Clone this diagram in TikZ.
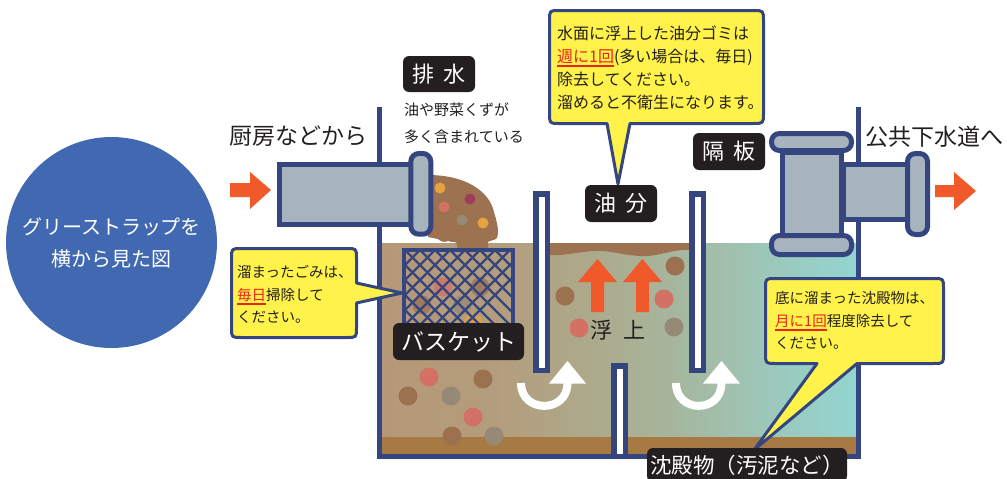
\documentclass[tikz,border=0pt]{standalone}
\usepackage{fontspec}
\setmainfont{Noto Sans CJK JP}

\definecolor{navy}{RGB}{53,69,127}
\definecolor{pipegrey}{RGB}{167,180,189}
\definecolor{disc}{RGB}{65,105,178}
\definecolor{flow}{RGB}{240,90,42}
\definecolor{note}{RGB}{255,242,75}
\definecolor{ink}{RGB}{35,31,32}
\definecolor{warn}{RGB}{235,35,30}
\definecolor{oil}{RGB}{157,114,80}
\definecolor{sludge}{RGB}{166,122,66}
\definecolor{dpink}{RGB}{210,113,100}
\definecolor{dbrown}{RGB}{156,113,80}
\definecolor{dgrey}{RGB}{150,137,118}
\definecolor{dorange}{RGB}{229,163,63}
\definecolor{dmaroon}{RGB}{156,62,90}
\definecolor{waterA}{RGB}{182,152,120}
\definecolor{waterB}{RGB}{179,157,124}
\definecolor{waterC}{RGB}{172,171,141}
\definecolor{waterD}{RGB}{165,184,160}
\definecolor{waterE}{RGB}{156,200,187}
\definecolor{waterF}{RGB}{146,213,207}

% water tint from the inlet side (tan) to the outlet side (clear teal)
\pgfdeclarehorizontalshading{tankwater}{100bp}{color(0bp)=(waterA); color(25bp)=(waterA);
  color(37bp)=(waterB); color(48bp)=(waterC); color(57bp)=(waterD);
  color(66bp)=(waterE); color(75bp)=(waterF); color(100bp)=(waterF)}

% red, underlined emphasis inside the notes
\newcommand\warnline[1]{\textcolor{warn}{\setbox0=\hbox{#1}\rlap{\rule[-4.5pt]{\wd0}{1.6pt}}\box0}}

\begin{document}
\begin{tikzpicture}[x=1pt,y=-1pt,
  wall/.style={draw=navy,line width=5pt},
  pipebody/.style={draw=navy,fill=pipegrey,line width=5pt},
  flange/.style={pipebody,rounded corners=8pt},
  callout/.style={draw=navy,fill=note,line width=3pt,line join=round},
  tag/.style={fill=ink,rounded corners=6pt,text=white,inner sep=0pt,font=\fontsize{22}{26}\selectfont},
  plain/.style={text=ink,inner sep=0pt},
  swirl/.style={draw=white,line width=8pt},
]
\useasboundingbox (0,0) rectangle (1007,479);
\clip (0,0) rectangle (1007,479);

% ---- tank contents ----
\shade[shading=tankwater] (382,243) rectangle (856,454);
\fill[oil] (549,243) -- (690,243) -- (690,250)
  .. controls (670,249) and (660,257) .. (640,256)
  .. controls (620,255) and (610,250) .. (595,251)
  .. controls (575,252) and (565,256) .. (549,255) -- cycle;
\fill[sludge] (382,437) rectangle (856,454);

% suspended solids
\foreach \x/\y/\c in {429/377/dpink, 483/379/dbrown, 408/396/dbrown, 451/396/dgrey,
    473/417/dpink, 452/436/dbrown, 494/436/dgrey,
    565/296/dbrown, 579/328/dpink, 675/266/dbrown, 664/299/dpink, 674/327/dgrey}
  \fill[\c] (\x,\y) circle[radius=9.5pt];
\foreach \x/\y/\c in {443/287/dpink, 480/287/dbrown, 422/305/dbrown, 462/305/dgrey, 473/323/dorange}
  \fill[\c,opacity=.75] (\x,\y) circle[radius=9.5pt];

% waste pouring out of the inlet
\fill[oil] (428,175) .. controls (464,175) and (489,190) .. (494,212)
  .. controls (498,225) and (499,233) .. (497,238)
  .. controls (494,241) and (490,240) .. (488,242) -- (488,252) -- (457,252) -- (457,244)
  .. controls (455,240) and (452,243) .. (448,241)
  .. controls (444,243) and (440,241) .. (438,239) -- (428,237) -- cycle;
\foreach \x/\y/\c in {440/188/dorange, 470/199/dmaroon, 444/207/dpink, 462/220/dgrey, 483/223/dorange}
  \fill[\c] (\x,\y) circle[radius=5.5pt];

% basket
\begin{scope}
  \clip (404,250) rectangle (513,345);
  \foreach \c in {285,300,...,540} {
    \draw[navy,line width=2.2pt] (\c,250) -- ++(100,100);
    \draw[navy,line width=2.2pt] (\c,250) -- ++(-100,100);
  }
\end{scope}
\draw[navy,line width=4pt] (404,250) rectangle (513,345);

% rising oil
\fill[flow] (591,312) -- (591,282) -- (578,282) -- (597.5,259) -- (617,282) -- (604,282) -- (604,312) -- cycle;
\fill[flow] (636,312) -- (636,282) -- (623,282) -- (642.5,259) -- (662,282) -- (649,282) -- (649,312) -- cycle;
\node[plain,font=\fontsize{22}{26}\selectfont] (rise) at (618,330) {浮\hspace{.5em}上};

% flow under the baffles
\draw[swirl] (521,383) .. controls (521,413.5) and (567.5,413.5) .. (567.5,383);
\fill[white] (549,383.5) -- (586,383.5) -- (567.5,361) -- cycle;
\draw[swirl] (676,383) .. controls (676,413.5) and (721.5,413.5) .. (721.5,383);
\fill[white] (703,383.5) -- (740,383.5) -- (721.5,361) -- cycle;

% baffles
\fill[navy] (533,191) rectangle (550,373);
\fill[white] (539,197) rectangle (545,368);
\fill[navy] (689,191) rectangle (706,373);
\fill[white] (695,197) rectangle (701,368);
\fill[navy] (611,363) rectangle (628,459);
\fill[white] (616.5,368.5) rectangle (622.5,454);

% tank walls
\draw[wall] (379.5,107) -- (379.5,456.5) -- (858,456.5) -- (858,107);

% ---- pipes ----
\draw[pipebody] (279.5,164.5) rectangle (412,224.5);
\draw[flange] (410.8,153.5) rectangle (430.8,234.2);

\draw[pipebody] (843,164.5) rectangle (907,219.5);
\draw[pipebody] (782.5,152) rectangle (841.5,236);
\draw[flange] (771.5,133.5) rectangle (851.5,150.5);
\draw[flange] (771.5,235.5) rectangle (851.5,254.5);
\draw[flange] (907.5,153.5) rectangle (927.5,234.5);

% in / out arrows
\fill[flow] (230,183) -- (250,183) -- (250,172) -- (271,190) -- (250,209) -- (250,197) -- (230,197) -- cycle;
\fill[flow] (935,185) -- (954,185) -- (954,172) -- (976,191) -- (954,210) -- (954,197) -- (935,197) -- cycle;

% ---- titles ----
\node[circle,fill=disc,minimum size=211pt,inner sep=0pt,text=white,align=center,
      font=\fontsize{20}{32}\selectfont] (caption) at (111.5,242.5) {グリーストラップを\\横から見た図};
\node[plain,font=\fontsize{23}{26}\selectfont] (src) at (298,136) {厨房などから};
\node[plain,font=\fontsize{23}{26}\selectfont] (dst) at (934,137) {公共下水道へ};
\node[plain,anchor=west,align=left,font=\fontsize{15}{27}\selectfont] (drainNote) at (404,123.5)
  {油や野菜くずが\\多く含まれている};

% ---- notes ----
\draw[callout] (559,10.5) -- (753,10.5) .. controls (763.5,10.5) .. (763.5,21) -- (763.5,113)
  .. controls (763.5,123.5) .. (753,123.5) -- (630,123.5) -- (618,184) -- (607,123.5) -- (559,123.5)
  .. controls (549.5,123.5) .. (549.5,113) -- (549.5,21) .. controls (549.5,10.5) .. (559,10.5) -- cycle;
\node[plain,anchor=west,align=left,font=\fontsize{16}{23}\selectfont] (oilNote) at (557,67.5)
  {水面に浮上した油分ゴミは\\\warnline{週に1回}(多い場合は、毎日)\\除去してください。\\溜めると不衛生になります。};

\draw[callout] (241.5,248.5) -- (346.5,248.5) .. controls (356.5,248.5) .. (356.5,258.5) -- (356.5,283)
  -- (402,293) -- (356.5,303) -- (356.5,327.5) .. controls (356.5,337.5) .. (346.5,337.5) -- (241.5,337.5)
  .. controls (231.5,337.5) .. (231.5,327.5) -- (231.5,258.5) .. controls (231.5,248.5) .. (241.5,248.5) -- cycle;
\node[plain,anchor=west,align=left,font=\fontsize{14.5}{22.5}\selectfont] (basketNote) at (237,294.5)
  {溜まったごみは、\\\warnline{毎日}掃除して\\ください。};

\draw[callout] (775.5,278.5) -- (933.5,278.5) .. controls (943.5,278.5) .. (943.5,288.5) -- (943.5,353.5)
  .. controls (943.5,363.5) .. (933.5,363.5) -- (857,363.5) -- (754,450) -- (817,363.5) -- (775.5,363.5)
  .. controls (765.5,363.5) .. (765.5,353.5) -- (765.5,288.5) .. controls (765.5,278.5) .. (775.5,278.5) -- cycle;
\node[plain,anchor=west,align=left,font=\fontsize{14.5}{22.5}\selectfont] (sludgeNote) at (775,320.5)
  {底に溜まった沈殿物は、\\\warnline{月に1回}程度除去して\\ください。};

% ---- name tags ----
\node[tag,minimum width=72pt,minimum height=36pt] (drainTag) at (439,74) {排\hspace{.45em}水};
\node[tag,minimum width=72pt,minimum height=37pt] (oilTag) at (621,203.5) {油\hspace{.45em}分};
\node[tag,minimum width=72pt,minimum height=37pt] (plateTag) at (729,151.5) {隔\hspace{.45em}板};
\node[tag,minimum width=131pt,minimum height=37pt,font=\fontsize{23}{26}\selectfont] (basketTag)
  at (458.5,341.5) {バスケット};
\node[tag,minimum width=200pt,minimum height=34pt,font=\fontsize{21.5}{24}\selectfont] (sludgeTag)
  at (747,465) {沈殿物（汚泥など）};
\end{tikzpicture}
\end{document}
